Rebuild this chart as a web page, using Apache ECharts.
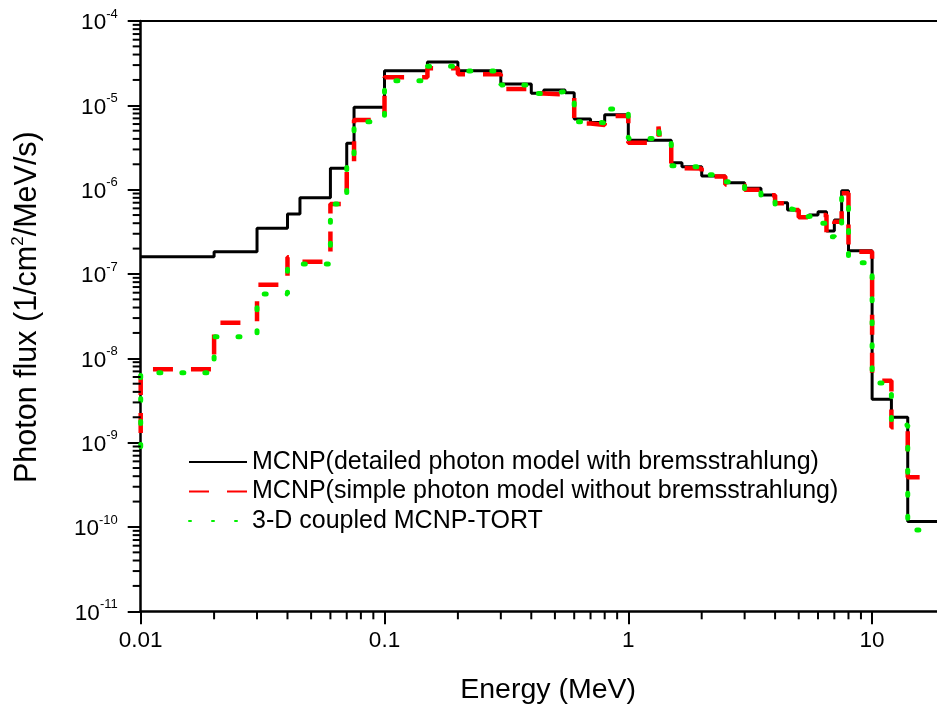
<!DOCTYPE html>
<html><head><meta charset="utf-8">
<script src="https://cdn.jsdelivr.net/npm/echarts@6/dist/echarts.min.js"></script>
<style>html,body{margin:0;padding:0;background:#fff}#c{width:937px;height:713px}</style>
</head><body><div id="c"></div>
<script>
// Energy bin edges (MeV)
const edges = [0.01, 0.02, 0.03, 0.04, 0.045, 0.06, 0.07, 0.075, 0.1, 0.15, 0.2, 0.3, 0.4, 0.45, 0.55, 0.6, 0.7, 0.8, 1.0, 1.33, 1.35, 1.5, 1.66, 2.0, 2.5, 3.0, 3.5, 4.0, 4.5, 5.0, 5.5, 6.0, 6.5, 7.0, 7.5, 8.0, 10, 12, 14, 20];
// Bin values (1/cm2/MeV/s)
const detailedVals = [1.60e-7, 1.84e-7, 3.48e-7, 5.15e-7, 8.03e-7, 1.79e-6, 3.55e-6, 9.48e-6, 2.57e-5, 3.27e-5, 2.57e-5, 1.79e-5, 1.39e-5, 1.52e-5, 1.41e-5, 6.89e-6, 6.25e-6, 7.75e-6, 3.85e-6, 3.85e-6, 3.85e-6, 2.09e-6, 1.87e-6, 1.45e-6, 1.21e-6, 1.04e-6, 8.64e-7, 7.0e-7, 5.74e-7, 4.70e-7, 5.01e-7, 5.48e-7, 3.24e-7, 4.37e-7, 9.72e-7, 1.89e-7, 3.27e-9, 2.0e-9, 1.16e-10];
const simpleVals = [7.41e-9, 2.64e-8, 7.46e-8, 1.58e-7, 1.40e-7, 6.76e-7, 2.1e-6, 6.71e-6, 2.15e-5, 2.75e-5, 2.33e-5, 1.56e-5, 1.38e-5, 1.35e-5, 1.27e-5, 6.1e-6, 5.84e-6, 7.47e-6, 3.6e-6, 5.6e-6, 3.8e-6, 1.8e-6, 1.78e-6, 1.43e-6, 1.15e-6, 1.0e-6, 8.6e-7, 6.9e-7, 5.74e-7, 4.7e-7, 5.0e-7, 5.0e-7, 3.05e-7, 4.17e-7, 9.05e-7, 1.84e-7, 5.43e-9, 1.52e-9, 3.88e-10];
const tortVals = [6.76e-9, 1.80e-8, 5.79e-8, 1.31e-7, 1.31e-7, 6.76e-7, 2.3e-6, 6.4e-6, 1.96e-5, 2.90e-5, 2.55e-5, 1.74e-5, 1.38e-5, 1.45e-5, 1.4e-5, 6.4e-6, 6.2e-6, 9.04e-6, 4.03e-6, 5.4e-6, 3.9e-6, 1.92e-6, 1.85e-6, 1.5e-6, 1.24e-6, 1.0e-6, 8.6e-7, 6.0e-7, 5.7e-7, 4.79e-7, 5.0e-7, 4.0e-7, 2.77e-7, 3.39e-7, 8.5e-7, 1.36e-7, 5.1e-9, 1.62e-9, 9.2e-11];
// value just below the first edge (drawn as the vertical rise at 0.01 MeV)
const simpleStart = 1.3e-9;
const tortStart = 9e-10;
const seriesNames = [
  'MCNP(detailed photon model with bremsstrahlung)',
  'MCNP(simple photon model without bremsstrahlung)',
  '3-D coupled MCNP-TORT'
];
const xMinorDecades = [0.01, 0.1, 1];
const yMinorDecades = [1e-11, 1e-10, 1e-9, 1e-8, 1e-7, 1e-6, 1e-5];
const minorMult = [2, 3, 4, 5, 6, 7, 8, 9];

const FONT = '"Liberation Sans", Arial, Helvetica, sans-serif';
const X_MIN = 0.01, X_MAX = 20, Y_MIN = 1e-11, Y_MAX = 1e-4;

function stepData(vals, start) {
  const d = [];
  if (start !== undefined) d.push([edges[0], start]);
  for (let i = 0; i < vals.length; i++) d.push([edges[i], vals[i]]);
  d.push([edges[edges.length - 1], vals[vals.length - 1]]);
  return d;
}
const xMinor = [];
xMinorDecades.forEach(d => minorMult.forEach(m => xMinor.push([d * m, Y_MIN])));
const yMinor = [];
yMinorDecades.forEach(d => minorMult.forEach(m => yMinor.push([X_MIN, d * m])));

function xLabel(v) {
  if (v > 15) return '';
  const e = Math.round(Math.log10(v));
  return e < 0 ? v.toFixed(-e) : String(Math.round(v));
}

const chart = echarts.init(document.getElementById('c'), null, {renderer: 'canvas'});
chart.setOption({
  backgroundColor: '#fff',
  animation: false,
  grid: {left: 140.7, right: -8.5, top: 21, bottom: 101.7, containLabel: false, outerBoundsMode: 'none', show: false},
  legend: {
    show: true, orient: 'vertical', left: 188, top: 449.5, padding: 0,
    itemWidth: 58, itemHeight: 14, itemGap: 4.5,
    data: seriesNames,
    itemStyle: {opacity: 0},
    textStyle: {fontSize: 25, color: '#000', fontFamily: FONT},
    selectedMode: false
  },
  xAxis: [{
    type: 'log', logBase: 10, min: X_MIN, max: X_MAX, position: 'bottom',
    name: 'Energy (MeV)', nameLocation: 'middle', nameGap: 64,
    nameTextStyle: {fontSize: 28.5, color: '#000', fontFamily: FONT, padding: [0, 0, 0, 10]},
    axisLine: {show: true, onZero: false, lineStyle: {color: '#000', width: 2.5}},
    axisTick: {show: true, inside: false, length: 13, lineStyle: {color: '#000', width: 2}},
    minorTick: {show: false},
    splitLine: {show: false},
    axisLabel: {show: true, margin: 18, fontSize: 22.5, color: '#000', fontFamily: FONT, formatter: xLabel, showMaxLabel: false}
  }, {
    type: 'log', logBase: 10, min: X_MIN, max: X_MAX, position: 'top',
    axisLine: {show: true, onZero: false, lineStyle: {color: '#000', width: 2}},
    axisTick: {show: false}, axisLabel: {show: false}, splitLine: {show: false}
  }],
  yAxis: [{
    type: 'log', logBase: 10, min: Y_MIN, max: Y_MAX, position: 'left',
    name: 'Photon flux (1/cm{s|2}/MeV/s)', nameLocation: 'middle', nameGap: 96,
    nameTextStyle: {fontSize: 30.5, color: '#000', fontFamily: FONT, padding: [0, 0, 0, 18],
      rich: {s: {fontSize: 17, color: '#000', fontFamily: FONT, verticalAlign: 'bottom', padding: [0, 0, 18, 0]}}},
    axisLine: {show: true, onZero: false, lineStyle: {color: '#000', width: 2.5}},
    axisTick: {show: true, inside: false, length: 13, lineStyle: {color: '#000', width: 2}},
    minorTick: {show: false},
    splitLine: {show: false},
    axisLabel: {
      show: true, margin: 23, color: '#000', fontFamily: FONT,
      formatter: v => '{b|10}{s|' + Math.round(Math.log10(v)) + '}',
      rich: {
        b: {fontSize: 22.5, color: '#000', fontFamily: FONT, verticalAlign: 'bottom'},
        s: {fontSize: 13, color: '#000', fontFamily: FONT, verticalAlign: 'bottom', padding: [0, 0, 14, 0]}
      }
    }
  }],
  series: [
    {
      name: seriesNames[0], type: 'line', step: 'end', data: stepData(detailedVals),
      symbol: 'none', showSymbol: false, z: 3,
      lineStyle: {color: '#000', width: 3, type: 'solid'},
      itemStyle: {color: '#000'}
    },
    {
      name: seriesNames[1], type: 'line', step: 'end', data: stepData(simpleVals, simpleStart),
      symbol: 'none', showSymbol: false, z: 4,
      lineStyle: {color: '#ff0000', width: 4.5, type: [20, 18], cap: 'butt'},
      itemStyle: {color: '#ff0000'}
    },
    {
      name: seriesNames[2], type: 'line', step: 'end', data: stepData(tortVals, tortStart),
      symbol: 'none', showSymbol: false, z: 5,
      lineStyle: {color: '#00f000', width: 5, type: [2, 21], cap: 'round'},
      itemStyle: {color: '#00f000'}
    },
    {
      name: 'xminor', type: 'custom', data: xMinor, clip: false, silent: true, z: 10,
      renderItem: (params, api) => {
        const p = api.coord([api.value(0), api.value(1)]);
        return {type: 'line', shape: {x1: p[0], y1: p[1], x2: p[0], y2: p[1] + 8}, style: {stroke: '#000', lineWidth: 2}};
      }
    },
    {
      name: 'yminor', type: 'custom', data: yMinor, clip: false, silent: true, z: 10,
      renderItem: (params, api) => {
        const p = api.coord([api.value(0), api.value(1)]);
        return {type: 'line', shape: {x1: p[0] - 8, y1: p[1], x2: p[0], y2: p[1]}, style: {stroke: '#000', lineWidth: 2}};
      }
    }
  ]
});
</script>
</body></html>
